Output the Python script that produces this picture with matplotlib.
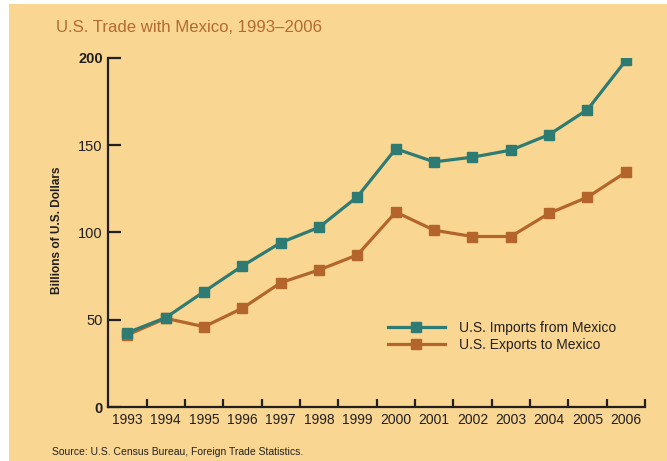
import matplotlib
matplotlib.use('Agg')
import matplotlib.pyplot as plt
from matplotlib.patches import Rectangle

plt.rcParams['font.family'] = ['Liberation Sans', 'DejaVu Sans']

years = list(range(1993, 2007))
imports = [42.7, 51.3, 66.2, 80.9, 94.2, 103.0, 120.5, 147.9, 140.4, 143.1, 147.1, 156.0, 170.3, 198.4]
exports = [41.4, 50.9, 46.1, 56.7, 71.3, 78.6, 87.2, 111.7, 101.3, 97.7, 97.7, 111.0, 120.2, 134.5]
ytick_vals = [0, 50, 100, 150, 200]

bg = '#F9D792'
teal = '#2E7B73'
orange = '#B3652B'
dark = '#231F20'

fig = plt.figure(figsize=(6.67, 4.61), dpi=100)
fig.patch.set_facecolor('white')
fig.add_artist(Rectangle((9 / 667, 0), 1, (461 - 4) / 461, transform=fig.transFigure,
                         facecolor=bg, edgecolor='none', zorder=-10))

ax = fig.add_axes([108.3 / 667, (461 - 407.3) / 461, (645 - 108.3) / 667, (407.3 - 57.7) / 461])
ax.set_facecolor('none')

ax.plot(years, imports, color=teal, lw=2.3, marker='s', ms=7.6, mec=teal, mfc=teal,
        label='U.S. Imports from Mexico', zorder=3)
ax.plot(years, exports, color=orange, lw=2.3, marker='s', ms=7.6, mec=orange, mfc=orange,
        label='U.S. Exports to Mexico', zorder=2)

ax.set_xlim(years[0] - 0.5, years[-1] + 0.5)
ax.set_ylim(0, 200)

for s in ['top', 'right']:
    ax.spines[s].set_visible(False)
for s in ['left', 'bottom']:
    ax.spines[s].set_linewidth(1.6)
    ax.spines[s].set_color(dark)

# ticks on the year boundaries, labels centred on the years
ax.set_xticks([y + 0.5 for y in years])
ax.set_xticklabels([])
ax.set_xticks(years, minor=True)
ax.set_xticklabels([str(y) for y in years], minor=True, fontsize=10, color=dark)
ax.tick_params(axis='x', which='major', direction='in', length=5.8, width=1.6, color=dark)
ax.tick_params(axis='x', which='minor', length=0, pad=4)

ax.set_yticks(ytick_vals)
ax.set_yticklabels([str(v) for v in ytick_vals], fontsize=10.5, color=dark)
ax.tick_params(axis='y', direction='in', length=9.5, width=1.6, color=dark, pad=4)
for lbl in ax.get_yticklabels():
    if lbl.get_text() in ('0', '200'):
        lbl.set_fontweight('bold')

fig.text(57 / 667, 1 - 230 / 461, 'Billions of U.S. Dollars', rotation=90, fontsize=8.6,
         fontweight='bold', color=dark, ha='center', va='center')

fig.text(56 / 667, 1 - 27 / 461, 'U.S. Trade with Mexico, 1993\u20132006', fontsize=12.1,
         color='#B36A35', ha='left', va='center')

fig.text(52 / 667, 1 - 452 / 461, 'Source: U.S. Census Bureau, Foreign Trade Statistics.',
         fontsize=7.5, color=dark, ha='left', va='center')

ax.legend(loc='upper left', bbox_to_anchor=(388 / 667, 1 - 321 / 461), bbox_transform=fig.transFigure,
          frameon=False, fontsize=10, handlelength=4.1, handletextpad=1.0, labelspacing=0.2,
          borderpad=0, borderaxespad=0, labelcolor=dark)

plt.savefig('out.png', dpi=100, facecolor=fig.get_facecolor())
